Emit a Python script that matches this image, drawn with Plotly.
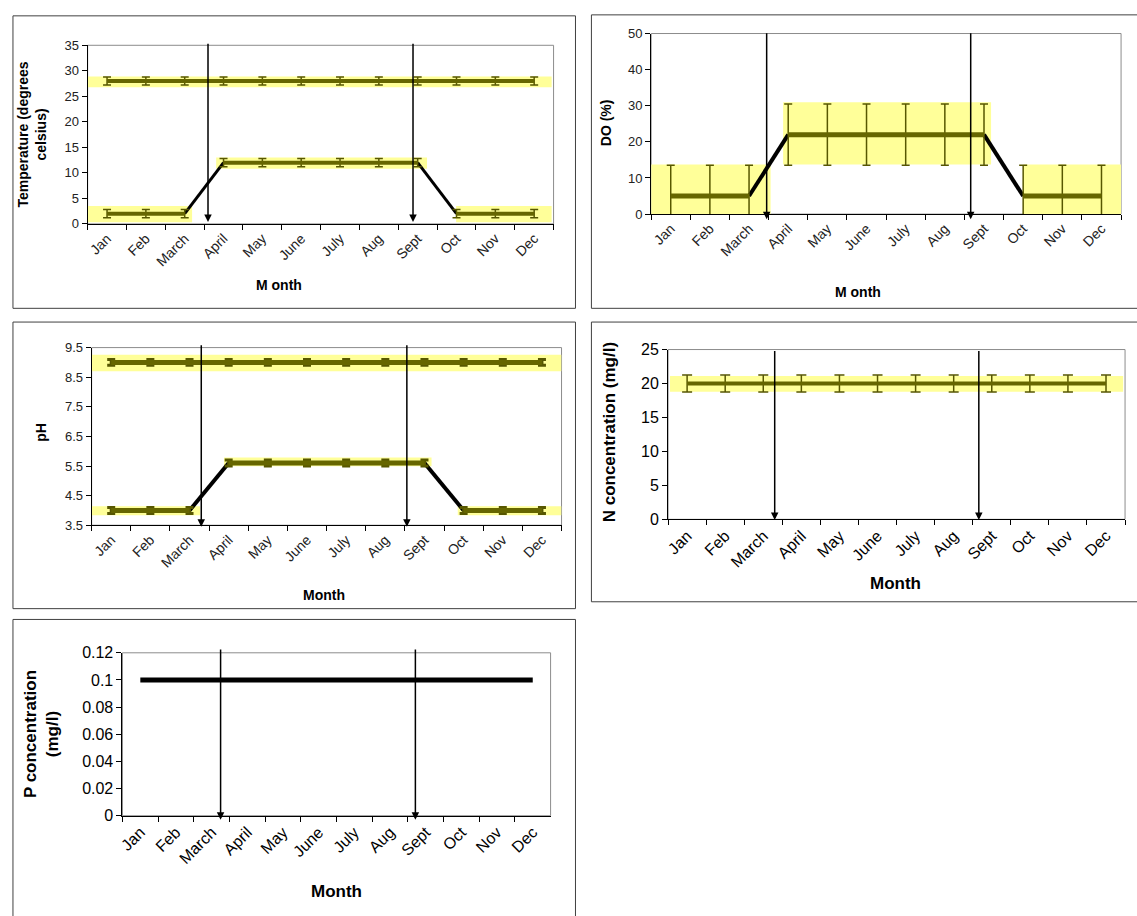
import plotly.graph_objects as go

W, H = 1137, 916

months = ["Jan", "Feb", "March", "April", "May", "June", "July", "Aug", "Sept", "Oct", "Nov", "Dec"]

# Temperature (degrees celsius)
temp_upper = [28, 28, 28, 28, 28, 28, 28, 28, 28, 28, 28, 28]
temp_lower = [2, 2, 2, 12, 12, 12, 12, 12, 12, 2, 2, 2]
temp_err = [0.8, 0.8, 0.8, 0.8, 0.8, 0.8, 0.8, 0.8, 0.8, 0.8, 0.8, 0.8]

# Dissolved oxygen (%)
do_values = [5, 5, 5, 22, 22, 22, 22, 22, 22, 5, 5, 5]
do_err = [8.5, 8.5, 8.5, 8.5, 8.5, 8.5, 8.5, 8.5, 8.5, 8.5, 8.5, 8.5]

# pH
ph_upper = [9, 9, 9, 9, 9, 9, 9, 9, 9, 9, 9, 9]
ph_lower = [4, 4, 4, 5.6, 5.6, 5.6, 5.6, 5.6, 5.6, 4, 4, 4]
ph_err = [0.1, 0.1, 0.1, 0.1, 0.1, 0.1, 0.1, 0.1, 0.1, 0.1, 0.1, 0.1]

# N concentration (mg/l)
n_values = [20, 20, 20, 20, 20, 20, 20, 20, 20, 20, 20, 20]
n_err = [1.25, 1.25, 1.25, 1.25, 1.25, 1.25, 1.25, 1.25, 1.25, 1.25, 1.25, 1.25]

# P concentration (mg/l)
p_values = [0.1, 0.1, 0.1, 0.1, 0.1, 0.1, 0.1, 0.1, 0.1, 0.1, 0.1, 0.1]

# y-axis scales
temp_ticks = [0, 5, 10, 15, 20, 25, 30, 35]
do_ticks = [0, 10, 20, 30, 40, 50]
ph_ticks = [3.5, 4.5, 5.5, 6.5, 7.5, 8.5, 9.5]
n_ticks = [0, 5, 10, 15, 20, 25]
p_ticks = [0, 0.02, 0.04, 0.06, 0.08, 0.1, 0.12]
p_tick_text = ["0", "0.02", "0.04", "0.06", "0.08", "0.1", "0.12"]

OLIVE = "#666600"
OLIVE_ERR = "#575700"
BAND = "#FFFF99"
FONT = "Liberation Sans"

# panel plot-area boxes in pixels: (left, right, top, bottom)
panels = {
    1: (83, 551, 38, 220),
    2: (649, 1121, 26, 210),
    3: (87, 559, 346, 527),
    4: (666, 1125, 348, 521),
    5: (118, 548, 657, 823),
}
# outer chart frames in pixels: (left, right, top, bottom)
frames = [
    (8, 573, 8, 306),
    (589, 1140, 7, 306),
    (8, 573, 320, 612),
    (589, 1140, 320, 605),
    (8, 573, 623, 930),
]
yranges = {}

fig = go.Figure()


def px_x(v):
    return v / W


def px_y(v):
    return 1 - v / H


def axis_names(n):
    return ("x" if n == 1 else f"x{n}", "y" if n == 1 else f"y{n}")


def add_series(n, values, err, flat_color, flat_width, link_color, link_width, err_width=1.5, cap=4):
    xr, yr = axis_names(n)
    runs = []
    start = 0
    for i in range(1, len(values) + 1):
        if i == len(values) or values[i] != values[start]:
            runs.append((start, i))
            start = i
    # black connectors between runs of equal values
    for (a0, a1), (b0, b1) in zip(runs[:-1], runs[1:]):
        fig.add_trace(go.Scatter(
            x=[months[a1 - 1], months[b0]], y=[values[a1 - 1], values[b0]],
            mode="lines", line=dict(color=link_color, width=link_width),
            xaxis=xr, yaxis=yr, showlegend=False, hoverinfo="skip"))
    for a, b in runs:
        ey = None
        if err is not None:
            ey = dict(type="data", array=err[a:b], visible=True, color=OLIVE_ERR,
                      thickness=err_width, width=cap)
        fig.add_trace(go.Scatter(
            x=months[a:b], y=values[a:b], mode="lines",
            line=dict(color=flat_color, width=flat_width),
            error_y=ey, xaxis=xr, yaxis=yr, showlegend=False, hoverinfo="skip"))


def add_band(n, x0, x1, y0, y1):
    xr, yr = axis_names(n)
    fig.add_shape(type="rect", xref=xr, yref=yr, x0=x0, x1=x1, y0=y0, y1=y1,
                  fillcolor=BAND, line=dict(width=0), layer="below")


def add_arrow(n, pos, y_top, y_tip):
    # vertical arrows use the axis domain vertically so they may run past the plot edge
    xr, yr = axis_names(n)
    lo, hi = yranges[n]
    f_top = (y_top - lo) / (hi - lo)
    f_tip = (y_tip - lo) / (hi - lo)
    fig.add_annotation(x=pos, y=f_tip, ax=pos, ay=f_top, xref=xr, yref=f"{yr} domain",
                       axref=xr, ayref=f"{yr} domain", text="", showarrow=True,
                       arrowhead=2, arrowsize=1, arrowwidth=1.5, arrowcolor="black",
                       standoff=0, startstandoff=0)


def setup_axes(n, yticks, yrange, ytext=None, xsize=14, ysize=13, tick_color="#222"):
    l, r, t, b = panels[n]
    yranges[n] = yrange
    xk = "xaxis" if n == 1 else f"xaxis{n}"
    yk = "yaxis" if n == 1 else f"yaxis{n}"
    xr, yr = axis_names(n)
    fig.update_layout(**{
        xk: dict(domain=[px_x(l), px_x(r)], anchor=yr, type="category",
                 categoryorder="array", categoryarray=months, range=[-0.5, 11.5],
                 tickson="boundaries", ticks="outside", ticklen=5, tickcolor="black",
                 showline=True, linecolor="black", linewidth=1, showgrid=False,
                 tickangle=-45, tickfont=dict(family=FONT, size=xsize, color=tick_color),
                 zeroline=False, fixedrange=True),
        yk: dict(domain=[px_y(b), px_y(t)], anchor=xr, range=yrange,
                 tickmode="array", tickvals=yticks, ticktext=ytext,
                 ticks="outside", ticklen=5, tickcolor="black",
                 showline=True, linecolor="black", linewidth=1, showgrid=False,
                 zeroline=False, tickfont=dict(family=FONT, size=ysize, color=tick_color),
                 fixedrange=True),
    })
    # grey plot-area border
    fig.add_shape(type="rect", xref="paper", yref="paper",
                  x0=px_x(l), x1=px_x(r), y0=px_y(b), y1=px_y(t),
                  line=dict(color="#8c8c8c", width=1), layer="below")


def add_text(text, x, y, size, angle=0):
    fig.add_annotation(text=text, x=px_x(x), y=px_y(y), xref="paper", yref="paper",
                       showarrow=False, textangle=angle, xanchor="center", yanchor="middle",
                       font=dict(family=FONT, size=size, color="black"))


# chart frames
for l, r, t, b in frames:
    fig.add_shape(type="rect", xref="paper", yref="paper",
                  x0=px_x(l), x1=px_x(r), y0=px_y(b), y1=px_y(t),
                  line=dict(color="#404040", width=1), layer="below")

# --- Temperature ---
setup_axes(1, temp_ticks, [0, 35])
add_band(1, -0.5, 11.45, 26.8, 28.9)
add_band(1, -0.5, 2.19, 0.35, 3.5)
add_band(1, 2.81, 8.24, 10.8, 13.0)
add_band(1, 8.99, 11.45, 0.35, 3.5)
add_series(1, temp_upper, temp_err, OLIVE, 4, "black", 3)
add_series(1, temp_lower, temp_err, OLIVE, 4, "black", 3)
add_arrow(1, 2.6, 35.6, 0.4)
add_arrow(1, 7.88, 35.6, 0.4)
add_text("<b>Temperature (degrees<br>celsius)</b>", 27, 129, 14, -90)
add_text("<b>M onth</b>", 275, 282, 14)

# --- Dissolved oxygen ---
setup_axes(2, do_ticks, [0, 50])
add_band(2, -0.5, 2.55, 0, 13.7)
add_band(2, 2.87, 8.18, 13.7, 31)
add_band(2, 9.0, 11.5, 0, 13.7)
add_series(2, do_values, do_err, OLIVE, 5, "black", 4)
add_arrow(2, 2.45, 50.5, -1.4)
add_arrow(2, 7.66, 50.5, -1.4)
add_text("<b>DO (%)</b>", 603, 117, 14, -90)
add_text("<b>M onth</b>", 857, 289, 14)

# --- pH ---
setup_axes(3, ph_ticks, [3.5, 9.5])
add_band(3, -0.5, 11.5, 8.7, 9.26)
add_band(3, -0.5, 2.27, 3.84, 4.14)
add_band(3, 2.88, 8.18, 5.49, 5.79)
add_band(3, 8.85, 11.5, 3.84, 4.14)
add_series(3, ph_upper, ph_err, OLIVE, 5, "black", 4, err_width=3, cap=4)
add_series(3, ph_lower, ph_err, OLIVE, 5, "black", 4, err_width=3, cap=4)
add_arrow(3, 2.3, 9.63, 3.45)
add_arrow(3, 7.55, 9.63, 3.45)
add_text("<b>pH</b>", 36, 432, 14, -90)
add_text("<b>Month</b>", 320, 598, 14)

# --- N concentration ---
setup_axes(4, n_ticks, [0, 25], xsize=16, ysize=16, tick_color="black")
add_band(4, -0.45, 11.45, 18.8, 21.1)
add_series(4, n_values, n_err, OLIVE, 4, "black", 3, err_width=1.5, cap=5)
add_arrow(4, 2.3, 25, -0.1)
add_arrow(4, 7.66, 25, -0.1)
add_text("<b>N concentration (mg/l)</b>", 608, 432, 17, -90)
add_text("<b>Month</b>", 894, 586, 17)

# --- P concentration ---
setup_axes(5, p_ticks, [0, 0.12], ytext=p_tick_text, xsize=16, ysize=16, tick_color="black")
add_series(5, p_values, None, "black", 5, "black", 5)
add_arrow(5, 2.25, 0.1236, -0.003)
add_arrow(5, 7.71, 0.1236, -0.003)
add_text("<b>P concentration<br>(mg/l)</b>", 36, 740, 17, -90)
add_text("<b>Month</b>", 333, 900, 17)

fig.update_layout(width=W, height=H, margin=dict(l=0, r=0, t=0, b=0),
                  paper_bgcolor="white", plot_bgcolor="white", showlegend=False)

# keep the page free of the default body margin
fig.write_html("out.html", config={"displayModeBar": False},
               post_script="document.body.style.margin='0px';")
